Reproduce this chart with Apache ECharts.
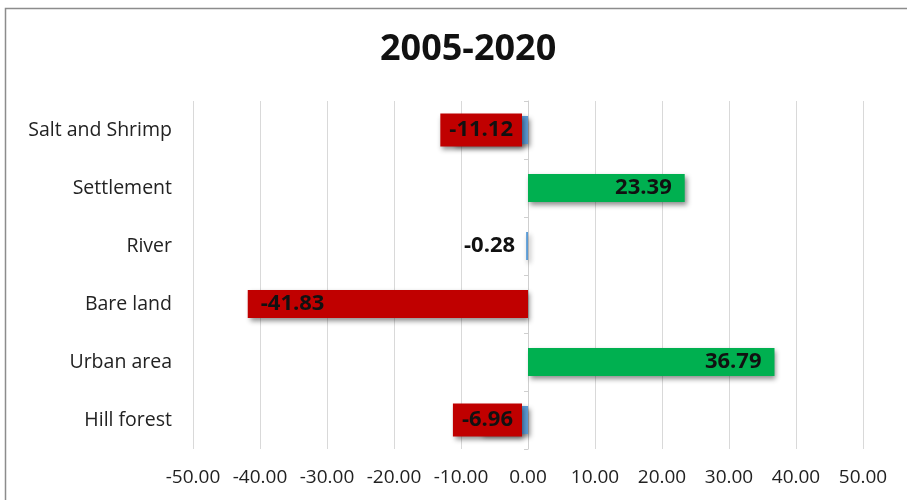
<!DOCTYPE html>
<html>
<head>
<meta charset="utf-8">
<script src="https://cdn.jsdelivr.net/npm/echarts@6/dist/echarts.min.js"></script>
<style>
  html, body { margin: 0; padding: 0; background: #fff; }
  #chart { width: 907px; height: 500px; }
</style>
</head>
<body>
<div id="chart"></div>
<script>
// Land cover change 2005-2020 (%), listed bottom to top
const categories = ['Hill forest', 'Urban area', 'Bare land', 'River', 'Settlement', 'Salt and Shrimp'];
const changeValues = [-6.96, 36.79, -41.83, -0.28, 23.39, -11.12];
const xTicks = [-50, -40, -30, -20, -10, 0, 10, 20, 30, 40, 50];
const chartTitle = '2005-2020';
// short losses whose value sits on a red tag over the default blue bar
const taggedCategories = ['Hill forest', 'Salt and Shrimp'];

const GREEN = '#00B050';
const RED = '#C00000';
const BLUE = '#5B9BD5';

const shadow = {
  shadowColor: 'rgba(0,0,0,0.45)',
  shadowBlur: 5,
  shadowOffsetX: 2,
  shadowOffsetY: 3
};

const barData = changeValues.map((v, i) => {
  const name = categories[i];
  if (taggedCategories.includes(name)) {
    return {
      value: v,
      itemStyle: { color: BLUE },
      label: Object.assign({
        position: 'insideRight',
        distance: 6,
        backgroundColor: RED,
        padding: [6, 9, 5, 9]
      }, shadow)
    };
  }
  if (Math.abs(v) < 1) {
    return { value: v, itemStyle: { color: BLUE }, label: { position: 'left', distance: 11 } };
  }
  return {
    value: v,
    itemStyle: { color: v >= 0 ? GREEN : RED },
    label: { position: v >= 0 ? 'insideRight' : 'insideLeft' }
  };
});

const chart = echarts.init(document.getElementById('chart'), null, { renderer: 'canvas' });

chart.setOption({
  animation: false,
  backgroundColor: '#fff',
  title: {
    text: chartTitle,
    left: 375,
    top: 27,
    textStyle: { fontFamily: 'Open Sans', fontWeight: 'bold', fontSize: 36, color: '#111' }
  },
  graphic: [{
    type: 'rect',
    shape: { x: 5.5, y: 8.5, width: 920, height: 520 },
    style: { fill: null, stroke: '#8c8c8c', lineWidth: 1.5 },
    silent: true
  }],
  grid: { left: 193, right: 44, top: 101, bottom: 51 },
  xAxis: {
    type: 'value',
    min: xTicks[0],
    max: xTicks[xTicks.length - 1],
    interval: 10,
    axisLine: { show: false },
    axisTick: { show: false },
    splitLine: { lineStyle: { color: '#d9d9d9', width: 1 } },
    axisLabel: {
      margin: 19,
      fontFamily: 'Open Sans',
      fontSize: 19,
      color: '#222',
      formatter: v => v.toFixed(2)
    }
  },
  yAxis: [{
    // zero line with category separators
    type: 'category',
    data: categories,
    axisLine: { show: true, onZero: true, lineStyle: { color: '#cfcfcf', width: 1 } },
    axisTick: { show: true, length: 4, lineStyle: { color: '#cfcfcf' } },
    axisLabel: { show: false }
  }, {
    // category names at the left edge
    type: 'category',
    data: categories,
    position: 'left',
    axisLine: { show: false, onZero: false },
    axisTick: { show: false },
    axisLabel: { margin: 21, fontFamily: 'Open Sans', fontSize: 19.5, color: '#222' }
  }],
  series: [{
    type: 'bar',
    yAxisIndex: 0,
    data: barData,
    barWidth: '48%',
    itemStyle: shadow,
    label: {
      show: true,
      fontFamily: 'Open Sans',
      fontWeight: 'bold',
      fontSize: 22,
      color: '#111',
      distance: 13,
      formatter: p => p.value.toFixed(2)
    }
  }]
});
</script>
</body>
</html>
